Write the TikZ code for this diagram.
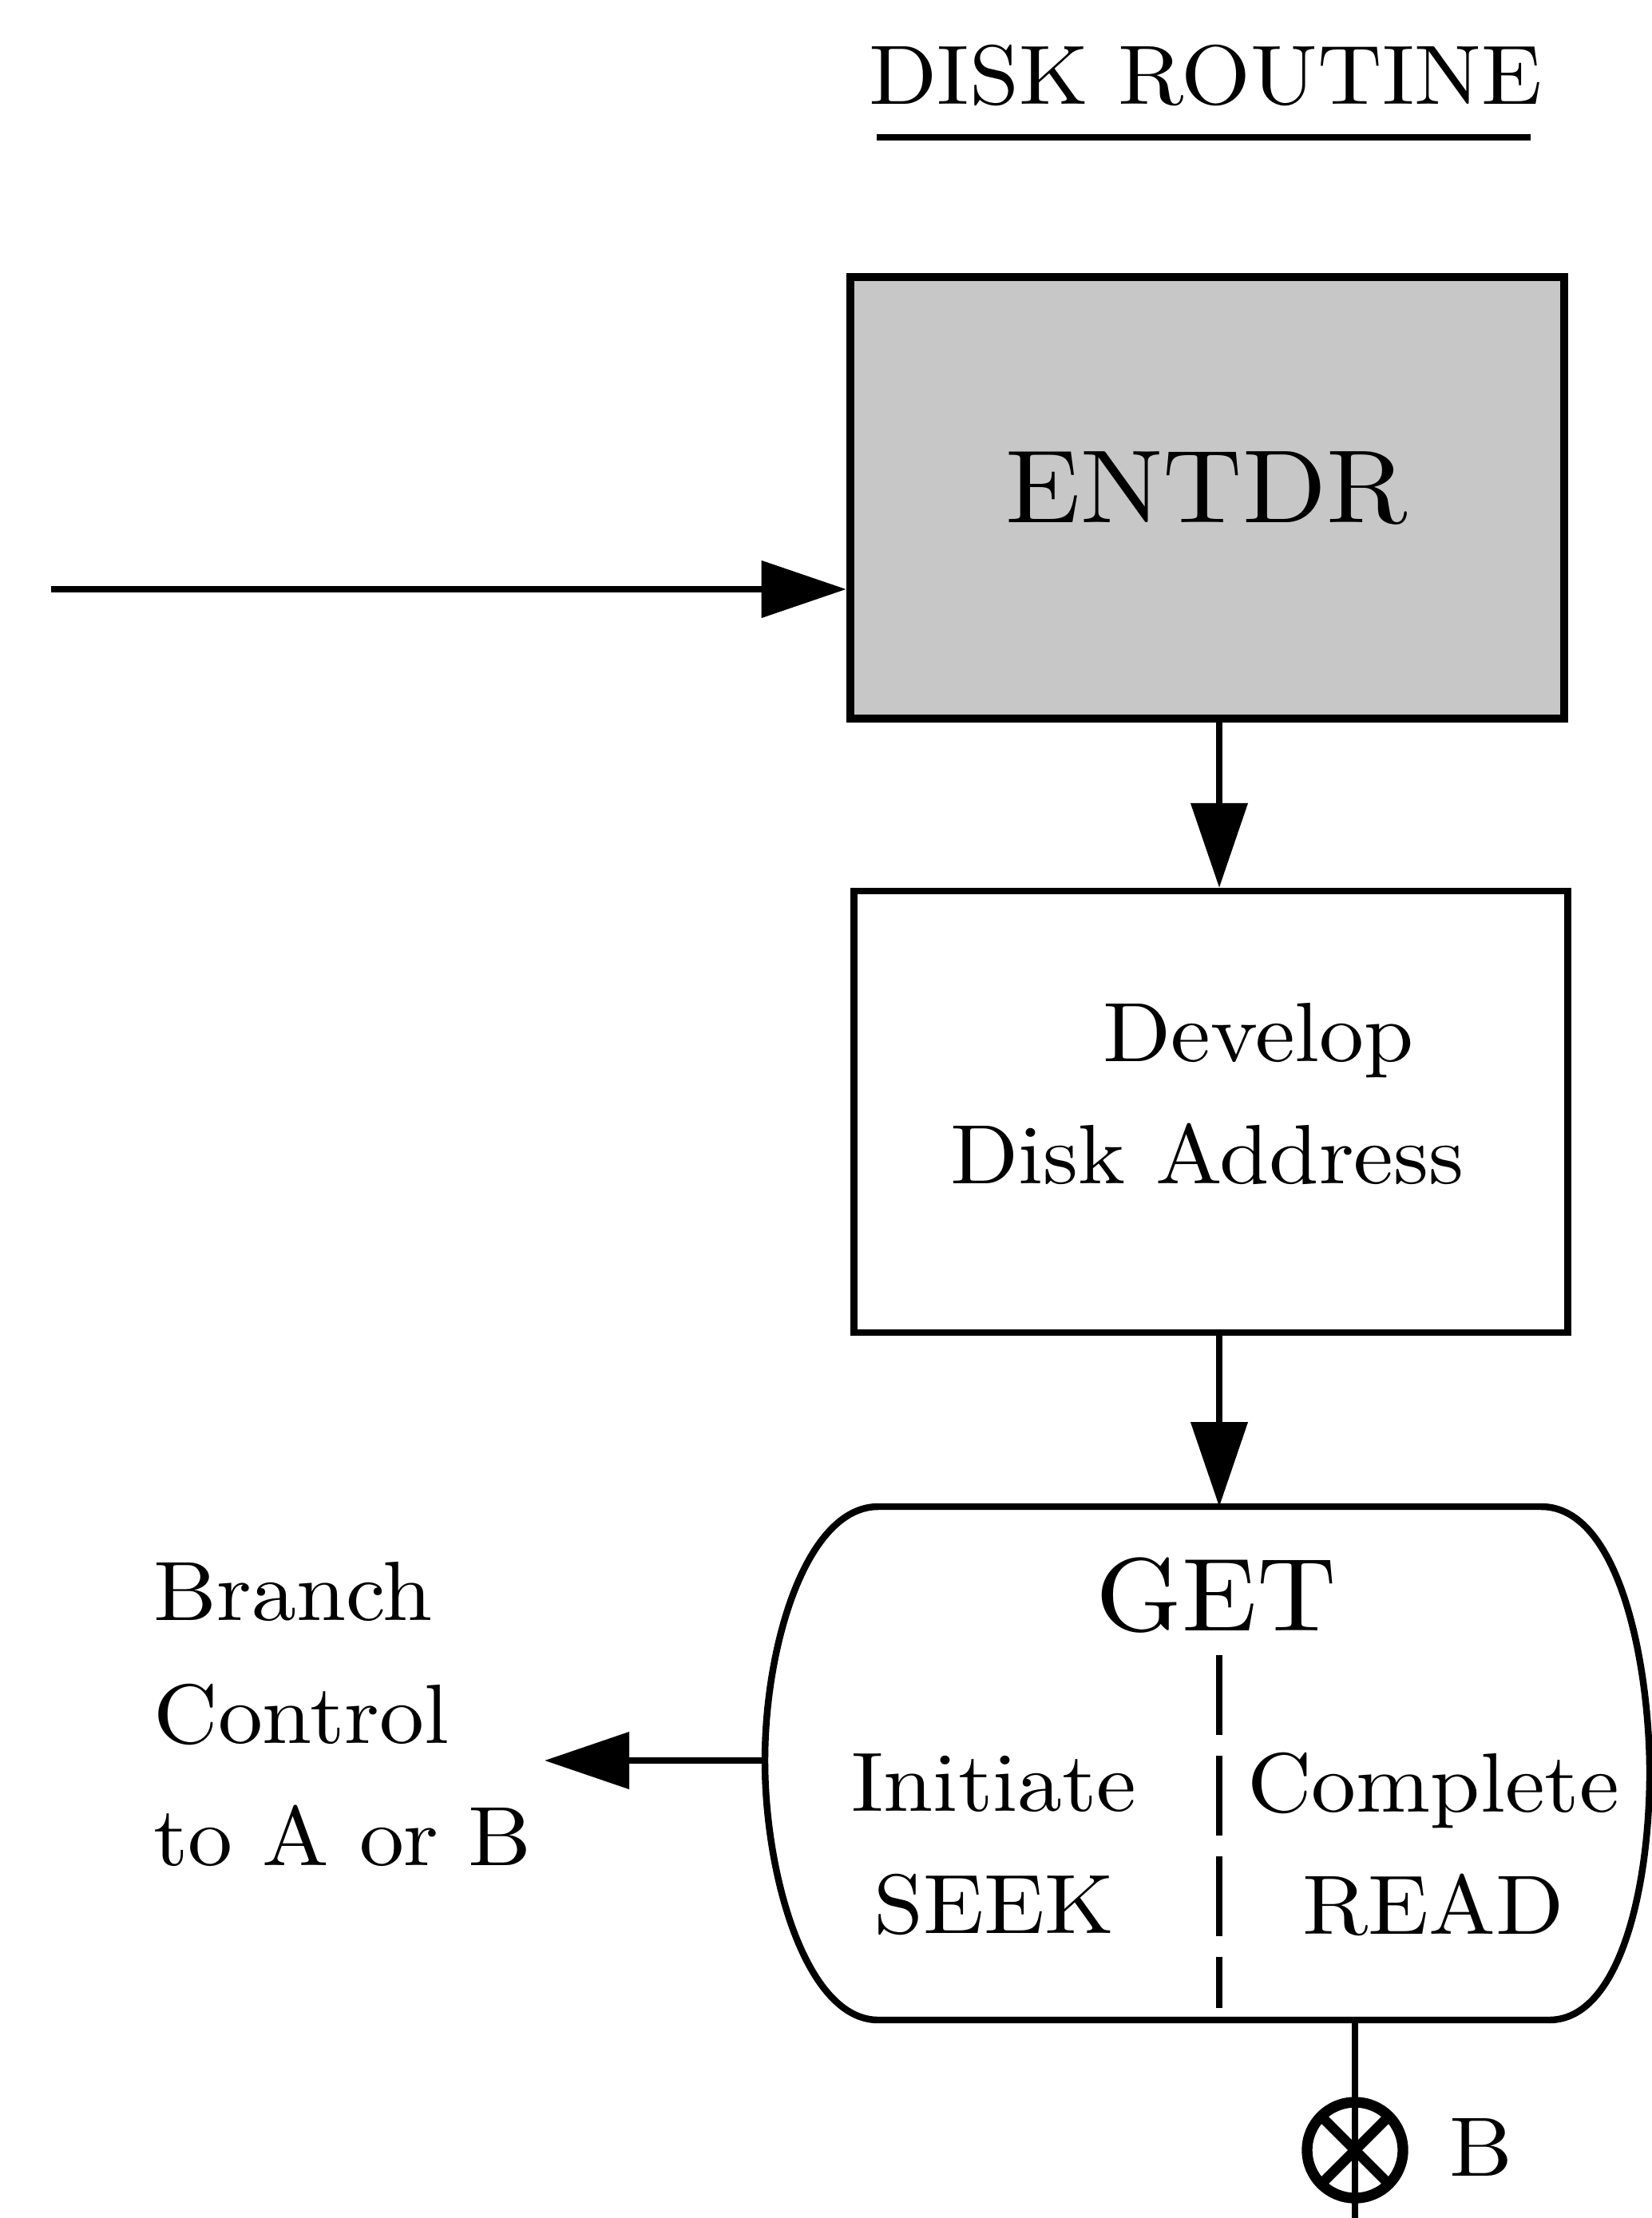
\documentclass[tikz,border=0pt]{standalone}
\usepackage{fontspec}
\setmainfont{lmroman10}[Extension=.otf, UprightFont=*-regular, FakeStretch=1.06]
\usepackage{tikz}
\usetikzlibrary{arrows.meta,positioning}

\begin{document}
\begin{tikzpicture}[x=0.5cm, y=-0.5cm,
        >={Triangle[length=5.3mm,width=3.5mm]},
        every node/.style={font=\fontsize{15}{21.8}\selectfont},
        big/.style={font=\fontsize{18.5}{22}\selectfont},
        routine/.style={draw, line width=1.2pt, minimum width=4.47cm, minimum height=2.765cm},
        flow/.style={->, line width=1.1pt}]
    \useasboundingbox (0,0) rectangle (20.69,27.78);

    % heading
    \node (title) at (15.10,0.95) {DISK ROUTINE};
    \draw[line width=1.1pt] (10.98,1.72) -- (19.17,1.72);

    % boxes
    \node[routine, fill=black!22, line width=1.5pt, big] (entdr) at (15.12,6.235) {};
    \node[big] (entdrtext) at (15.11,6.12) {ENTDR};
    \node[routine] (develop) at (15.165,13.925) {};
    \node[align=center] (developtext) at (15.12,13.70) {\hspace*{6.4mm}Develop\\Disk Address};
    \coordinate (axis) at (15.27,0);

    \coordinate (start) at (0.64,7.38);
    \draw[flow] (start) -- (start -| entdr.west);
    \draw[flow] (entdr.south -| axis) -- (develop.north -| axis);

    % GET block
    \coordinate (gettop) at (15.27,18.87);
    \coordinate (getleft) at (9.58,22.05);
    \coordinate (getbottom) at (16.97,25.3);
    \draw[line width=1.2pt] (11.0,18.87) -- (19.3,18.87)
        .. controls (20.3,18.87) and (20.66,20.9) .. (20.66,22.2)
        .. controls (20.66,23.6) and (20.3,25.3) .. (19.4,25.3)
        -- (11.0,25.3)
        .. controls (10.1,25.3) and (9.58,23.5) .. (getleft)
        .. controls (9.58,20.6) and (10.1,18.87) .. (11.0,18.87) -- cycle;
    \draw[flow] (develop.south -| axis) -- (gettop);
    \node[big] (get) at (15.23,19.98) {GET};
    \draw[line width=1.1pt, dash pattern=on 5mm off 1.3mm] (15.27,20.73) -- (15.27,25.15);
    \node[align=center] (seek) at (12.45,23.1) {Initiate\\SEEK};
    \node[align=center] (read) at (17.95,23.1) {Complete\\READ};

    % branch out
    \node[align=left, anchor=west, inner sep=0pt] (branch) at (1.91,21.47) {Branch\\Control\\to A or B};
    \coordinate (tip) at (6.82,22.05);
    \draw[flow] (getleft) -- (tip);

    % connector B
    \node[draw, circle, inner sep=0pt, minimum size=6.0mm, line width=1.9pt,
        path picture={\draw[line width=1.8pt]
            (path picture bounding box.north west) -- (path picture bounding box.south east)
            (path picture bounding box.north east) -- (path picture bounding box.south west);}]
        (conB) at (16.97,26.93) {};
    \draw[line width=1.2pt] (getbottom) -- (conB.north) (conB.north) -- (16.97,27.78);
    \node (labB) at (18.55,26.89) {B};
\end{tikzpicture}
\end{document}
